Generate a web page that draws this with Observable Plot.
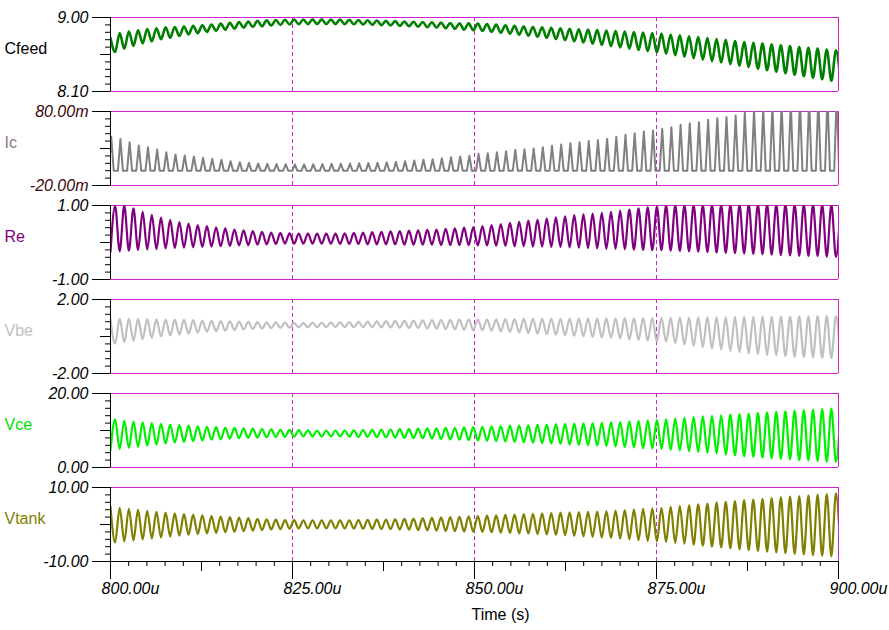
<!DOCTYPE html>
<html><head><meta charset="utf-8">
<script src="https://cdn.jsdelivr.net/npm/d3@7"></script>
<script src="https://cdn.jsdelivr.net/npm/@observablehq/plot@0.6"></script>
<style>
body{margin:0;background:#fff;}
#chart{position:relative;width:889px;height:630px;overflow:hidden;background:#fff;}
</style>
</head><body><div id="chart"></div>
<script>
// time axis (microseconds)
const tStart = 800;
const period = 1.2614;          // oscillation period
const xMajor = [800, 825, 850, 875, 900];
const xMid = [812.5, 837.5, 862.5, 887.5];
const gridX = [825, 850, 875];

// per-cycle extremes
const cfeedHi = [8.75,8.81,8.83,8.845,8.86,8.87,8.88,8.885,8.89,8.9,
 8.906,8.915,8.925,8.935,8.945,8.95,8.96,8.965,8.97,8.972,
 8.975,8.976,8.977,8.977,8.976,8.975,8.973,8.97,8.967,8.963,
 8.959,8.956,8.952,8.949,8.945,8.942,8.938,8.934,8.93,8.928,
 8.926,8.92,8.913,8.906,8.898,8.89,8.885,8.88,8.874,8.868,
 8.862,8.857,8.853,8.847,8.841,8.835,8.829,8.823,8.817,8.811,
 8.805,8.794,8.783,8.772,8.761,8.75,8.739,8.728,8.715,8.702,
 8.692,8.682,8.672,8.662,8.652,8.642,8.632,8.621,8.61,8.6];
const cfeedLo = [8.58,8.62,8.655,8.685,8.71,8.735,8.755,8.775,8.795,8.81,
 8.825,8.84,8.852,8.864,8.875,8.885,8.894,8.902,8.91,8.915,
 8.918,8.92,8.921,8.921,8.92,8.919,8.917,8.914,8.911,8.907,
 8.903,8.898,8.893,8.888,8.882,8.876,8.869,8.861,8.853,8.845,
 8.837,8.826,8.815,8.803,8.791,8.778,8.765,8.752,8.738,8.724,
 8.71,8.696,8.682,8.667,8.652,8.637,8.622,8.606,8.59,8.575,
 8.56,8.542,8.524,8.506,8.488,8.47,8.452,8.433,8.415,8.397,
 8.378,8.36,8.341,8.322,8.303,8.285,8.267,8.249,8.231,8.214];
const icPeak = [46,43,38.5,34,31.8,28.6,25,22,20.5,19.2,
 17.4,16,14.7,12.8,11.5,10.6,9.6,9.2,9,8.8,
 8.5,8.5,8.8,9,9.2,9.4,9.7,10,10.4,10.8,
 11.3,12,12.8,13.8,14.7,15.5,16.9,18.2,19.2,20.2,
 22.8,23.7,25,26.4,28.2,29,30,31.8,33.6,35.4,
 37.2,38.5,40,41.5,43,46,48.5,50.7,53,54.3,
 56.6,58.8,62,64.2,65.6,68.8,71,72.4,74.6,79,
 82,85,88,90,92,95,97,99,101,103];
const icBase = 0;
const reHi = [0.99,1.0,0.92,0.83,0.75,0.67,0.61,0.55,0.51,0.47,
 0.44,0.41,0.38,0.35,0.33,0.31,0.29,0.27,0.26,0.25,
 0.24,0.24,0.24,0.24,0.24,0.25,0.26,0.27,0.28,0.29,
 0.30,0.31,0.32,0.33,0.34,0.35,0.37,0.38,0.40,0.41,
 0.44,0.47,0.5,0.53,0.56,0.59,0.62,0.65,0.68,0.71,
 0.74,0.76,0.78,0.8,0.83,0.86,0.89,0.92,0.95,0.97,
 1.0,1.0,1.01,1.01,1.01,1.02,1.02,1.02,1.02,1.03,
 1.03,1.03,1.03,1.03,1.03,1.03,1.03,1.03,1.03,1.03];
const reLo = [-0.25,-0.24,-0.22,-0.2,-0.19,-0.18,-0.16,-0.15,-0.14,-0.13,
 -0.12,-0.11,-0.1,-0.09,-0.08,-0.07,-0.06,-0.05,-0.04,-0.03,
 -0.03,-0.03,-0.03,-0.03,-0.03,-0.04,-0.04,-0.04,-0.05,-0.05,
 -0.05,-0.05,-0.06,-0.06,-0.06,-0.06,-0.07,-0.07,-0.07,-0.07,
 -0.08,-0.08,-0.09,-0.09,-0.1,-0.1,-0.11,-0.11,-0.12,-0.12,
 -0.13,-0.14,-0.15,-0.16,-0.17,-0.17,-0.18,-0.19,-0.2,-0.21,
 -0.21,-0.22,-0.23,-0.24,-0.25,-0.26,-0.27,-0.28,-0.29,-0.3,
 -0.31,-0.32,-0.33,-0.34,-0.35,-0.36,-0.37,-0.37,-0.38,-0.39];
const vbeHi = [0.92,0.97,0.96,0.95,0.94,0.93,0.92,0.91,0.9,0.88,
 0.86,0.85,0.83,0.82,0.8,0.79,0.78,0.77,0.76,0.75,
 0.74,0.74,0.75,0.75,0.76,0.77,0.78,0.79,0.8,0.82,
 0.83,0.84,0.85,0.86,0.87,0.88,0.89,0.9,0.91,0.92,
 0.92,0.93,0.93,0.94,0.94,0.95,0.95,0.95,0.96,0.96,
 0.96,0.97,0.97,0.97,0.98,0.98,0.99,0.99,1.0,1.0,
 1.01,1.01,1.02,1.02,1.03,1.03,1.04,1.04,1.05,1.06,
 1.06,1.07,1.07,1.08,1.08,1.09,1.09,1.1,1.1,1.1];
const vbeLo = [-0.38,-0.3,-0.22,-0.14,-0.07,0.0,0.06,0.11,0.16,0.21,
 0.25,0.29,0.32,0.35,0.38,0.41,0.43,0.45,0.47,0.48,
 0.49,0.5,0.5,0.51,0.51,0.51,0.5,0.5,0.5,0.49,
 0.49,0.48,0.47,0.46,0.44,0.42,0.4,0.38,0.36,0.35,
 0.34,0.31,0.28,0.25,0.22,0.19,0.16,0.13,0.1,0.07,
 0.04,0.01,-0.02,-0.05,-0.08,-0.11,-0.15,-0.19,-0.23,-0.27,
 -0.29,-0.36,-0.43,-0.5,-0.57,-0.64,-0.71,-0.78,-0.85,-0.92,
 -0.96,-1.0,-1.03,-1.06,-1.09,-1.11,-1.13,-1.15,-1.17,-1.19];
const vceHi = [13.0,12.7,12.4,12.2,12.0,11.8,11.6,11.45,11.3,11.15,
 11.0,10.9,10.8,10.7,10.6,10.5,10.4,10.3,10.2,10.15,
 10.1,10.05,10.0,10.0,10.0,10.0,10.05,10.1,10.15,10.2,
 10.27,10.35,10.4,10.5,10.55,10.6,10.7,10.75,10.85,10.9,
 11.0,11.1,11.2,11.3,11.35,11.4,11.5,11.6,11.7,11.8,
 11.85,11.9,12.0,12.1,12.2,12.3,12.45,12.6,12.75,12.9,
 13.0,13.2,13.4,13.6,13.8,13.95,14.1,14.3,14.45,14.6,
 14.75,14.9,15.05,15.2,15.35,15.5,15.65,15.8,15.95,16.1];
const vceLo = [4.7,5.0,5.3,5.6,5.9,6.2,6.5,6.7,6.9,7.1,
 7.3,7.5,7.6,7.8,7.9,8.0,8.1,8.2,8.25,8.3,
 8.35,8.4,8.4,8.4,8.4,8.4,8.35,8.3,8.3,8.2,
 8.15,8.1,8.0,7.95,7.9,7.8,7.7,7.6,7.5,7.4,
 7.3,7.2,7.1,7.0,6.9,6.8,6.7,6.6,6.5,6.35,
 6.2,6.1,6.0,5.9,5.8,5.7,5.5,5.4,5.2,5.1,
 5.0,4.8,4.6,4.4,4.2,4.0,3.8,3.5,3.3,3.05,
 2.9,2.7,2.5,2.35,2.2,2.0,1.9,1.75,1.6,1.5];
const vtankHi = [4.76,4.5,4.2,3.95,3.7,3.45,3.2,3.0,2.8,2.65,
 2.5,2.3,2.15,2.0,1.85,1.7,1.55,1.4,1.3,1.2,
 1.16,1.12,1.1,1.1,1.1,1.12,1.15,1.2,1.25,1.3,
 1.35,1.4,1.5,1.6,1.7,1.8,1.9,2.0,2.1,2.2,
 2.3,2.4,2.5,2.6,2.7,2.8,2.9,3.0,3.1,3.2,
 3.3,3.35,3.4,3.5,3.6,3.75,3.9,4.05,4.2,4.35,
 4.5,4.75,5.0,5.2,5.45,5.65,5.9,6.1,6.35,6.57,
 6.75,6.95,7.15,7.35,7.55,7.7,7.9,8.05,8.25,8.4];
const vtankLo = [-4.86,-4.6,-4.3,-4.0,-3.75,-3.5,-3.25,-3.0,-2.8,-2.6,
 -2.4,-2.25,-2.1,-1.95,-1.8,-1.65,-1.5,-1.35,-1.25,-1.15,
 -1.1,-1.05,-1.05,-1.05,-1.05,-1.08,-1.1,-1.15,-1.2,-1.23,
 -1.27,-1.33,-1.4,-1.5,-1.58,-1.65,-1.75,-1.82,-1.9,-1.95,
 -2.0,-2.1,-2.2,-2.3,-2.4,-2.5,-2.6,-2.7,-2.8,-2.9,
 -3.05,-3.2,-3.35,-3.5,-3.65,-3.8,-4.0,-4.2,-4.4,-4.6,
 -4.7,-4.95,-5.2,-5.45,-5.7,-5.95,-6.2,-6.45,-6.7,-6.95,
 -7.15,-7.35,-7.55,-7.75,-7.95,-8.1,-8.3,-8.45,-8.6,-8.75];

const names = ["Cfeed", "Ic", "Re", "Vbe", "Vce", "Vtank"];
const domains = [[8.1, 9.0], [-20, 80], [-1, 1], [-2, 2], [0, 20], [-10, 10]];
const suffixes = ["", "m", "", "", "", ""];

// styling
const MAG = "#cc22cc";
const lineColors = ["#007f00", "#808080", "#800080", "#c0c0c0", "#00f000", "#808000"];
const labelColors = ["#000000", "#8a7a8a", "#800080", "#c0c0c0", "#00e000", "#808000"];
const tickColors = ["#000", "#3a0606", "#000", "#000", "#000", "#000"];
const widths = [2.6, 2, 2.2, 2.2, 2.2, 2.2];
const extremes = [[cfeedHi, cfeedLo, "hi"], null, [reHi, reLo, "lo"], [vbeHi, vbeLo, "hi"], [vceHi, vceLo, "lo"], [vtankHi, vtankLo, "hi"]];

function wavePoints(hi, lo, first) {
  const pts = [];
  for (let k = 0; k < hi.length; k++) {
    const t = tStart + k * period;
    const a = first === "hi" ? hi[k] : lo[k];
    const b = first === "hi" ? lo[k] : hi[k];
    pts.push({t, v: a}, {t: t + period / 2, v: b});
  }
  return pts;
}
function pulsePoints(peaks) {
  const pts = [];
  const hw = 0.34;
  for (let k = 0; k < peaks.length; k++) {
    const t = tStart + k * period + 0.1;
    pts.push({t: t - hw, v: icBase}, {t, v: peaks[k]}, {t: t + hw, v: icBase});
  }
  return pts;
}

const chart = document.getElementById("chart");
const FONT = "'Liberation Sans', Arial, Helvetica, sans-serif";

names.forEach((name, i) => {
  const last = i === names.length - 1;
  const [y0, y1] = domains[i];
  const yMinor = d3.range(11).map(j => y0 + (y1 - y0) * j / 10);
  const pts = extremes[i] ? wavePoints(...extremes[i]) : pulsePoints(icPeak);
  const height = last ? 160 : 94;
  const marks = [
    Plot.ruleX(gridX, {stroke: MAG, strokeDasharray: "4,3"}),
    Plot.ruleY([y1], {stroke: MAG}),
    Plot.ruleY([y0], {stroke: last ? "#000" : MAG}),
    Plot.ruleX([900], {stroke: MAG}),
    Plot.line(pts, {x: "t", y: "v", stroke: lineColors[i], strokeWidth: widths[i],
      curve: extremes[i] ? "monotone-x" : "linear", clip: true}),
    Plot.ruleX([800], {stroke: "#000"}),
    Plot.axisY(yMinor, {tickSize: 5, tickFormat: () => "", stroke: "#000"}),
    Plot.axisY([(y0 + y1) / 2], {tickSize: 10, tickFormat: () => "", stroke: "#000"}),
    Plot.axisY([y0, y1], {tickSize: 18, tickPadding: 4, stroke: "#000",
      tickFormat: d => d.toFixed(2) + suffixes[i],
      fontStyle: "italic", fontSize: 16, fill: tickColors[i]}),
    Plot.text([name], {frameAnchor: "left", dx: -106, dy: -6, textAnchor: "start",
      fill: labelColors[i], fontSize: 16, text: d => d})
  ];
  if (last) {
    marks.push(
      Plot.axisX(d3.range(800, 900.01, 2.5), {anchor: "bottom", tickSize: 5, tickFormat: () => "", stroke: "#000"}),
      Plot.axisX(xMid, {anchor: "bottom", tickSize: 10, tickFormat: () => "", stroke: "#000"}),
      Plot.axisX(xMajor, {anchor: "bottom", tickSize: 18, tickFormat: () => "", stroke: "#000"}),
      Plot.text(xMajor, {x: d => d, frameAnchor: "bottom", dx: 20, dy: 32, fontSize: 16,
        fontStyle: "italic", fill: "#000", text: d => d.toFixed(2) + "u"}),
      Plot.text(["Time (s)"], {frameAnchor: "bottom", dx: 26, dy: 58, fontSize: 16, fill: "#000", text: d => d})
    );
  }
  const svg = Plot.plot({
    width: 889,
    height,
    marginTop: 17,
    marginBottom: height - 91,
    marginLeft: 110,
    marginRight: 51,
    x: {domain: [800, 900], label: null, axis: null},
    y: {domain: [y0, y1], label: null},
    style: {position: "absolute", top: (i * 94) + "px", left: "0px", background: "transparent",
      overflow: "visible", fontFamily: FONT, fontSize: "16px", color: "#000"},
    marks
  });
  chart.appendChild(svg);
});
</script>
</body></html>
